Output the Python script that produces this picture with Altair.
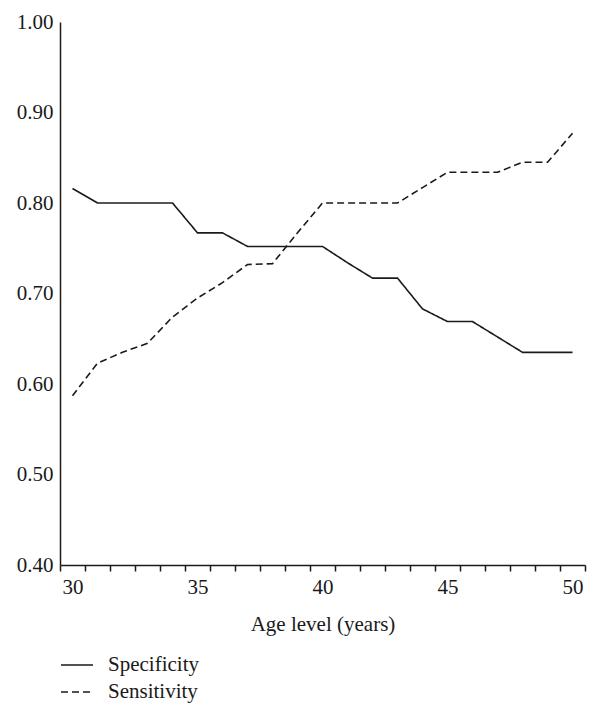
import altair as alt
import pandas as pd

ages = list(range(30, 51))
specificity = [0.816, 0.800, 0.800, 0.800, 0.800, 0.767, 0.767, 0.752, 0.752, 0.752, 0.752,
               0.734, 0.717, 0.717, 0.683, 0.669, 0.669, 0.652, 0.635, 0.635, 0.635]
sensitivity = [0.587, 0.623, 0.635, 0.645, 0.674, 0.695, 0.712, 0.732, 0.733, 0.767, 0.800,
               0.800, 0.800, 0.800, 0.817, 0.834, 0.834, 0.834, 0.845, 0.845, 0.877]
series = ["Specificity", "Sensitivity"]

rows = []
for a, s in zip(ages, specificity):
    rows.append({"age": a, "value": s, "series": series[0]})
for a, s in zip(ages, sensitivity):
    rows.append({"age": a, "value": s, "series": series[1]})
df = pd.DataFrame(rows)

FONT = "Liberation Serif"

chart = alt.Chart(df).mark_line(strokeWidth=1.6, color="#1a1a1a").encode(
    x=alt.X("age:O", bandPosition=0.5,
            scale=alt.Scale(type="band", paddingInner=0, paddingOuter=0),
            axis=alt.Axis(title="Age level (years)", labelAngle=0, tickBand="extent",
                          labelExpr="datum.value % 5 == 0 ? datum.label : ''",
                          labelOverlap=False, tickSize=6, labelPadding=5,
                          titlePadding=16, grid=False)),
    y=alt.Y("value:Q", scale=alt.Scale(domain=[0.4, 1.0], nice=False),
            axis=alt.Axis(title=None, values=[0.4, 0.5, 0.6, 0.7, 0.8, 0.9, 1.0],
                          format=".2f", ticks=False, labelPadding=7, grid=False)),
    strokeDash=alt.StrokeDash("series:N",
                              scale=alt.Scale(domain=series, range=[[1, 0], [7, 4]]),
                              legend=alt.Legend(title=None, orient="none", legendX=0,
                                                legendY=626, symbolType="stroke",
                                                symbolSize=1024, symbolStrokeWidth=1.6,
                                                symbolStrokeColor="#1a1a1a",
                                                labelFontSize=21, labelFont=FONT,
                                                labelColor="#1a1a1a", labelOffset=14,
                                                rowPadding=0, padding=0)),
).properties(
    width=525, height=543,
    autosize=alt.AutoSizeParams(type="none"),
    padding={"left": 52, "top": 14, "right": 7, "bottom": 150},
).configure_view(stroke=None).configure_axis(
    domainColor="#1a1a1a", domainWidth=1.5, tickColor="#1a1a1a", tickWidth=1.5,
    labelFont=FONT, labelFontSize=21, labelColor="#1a1a1a",
    titleFont=FONT, titleFontSize=21, titleFontWeight="normal", titleColor="#1a1a1a",
)

chart.save("out.html", embed_options={"renderer": "svg", "actions": False})
